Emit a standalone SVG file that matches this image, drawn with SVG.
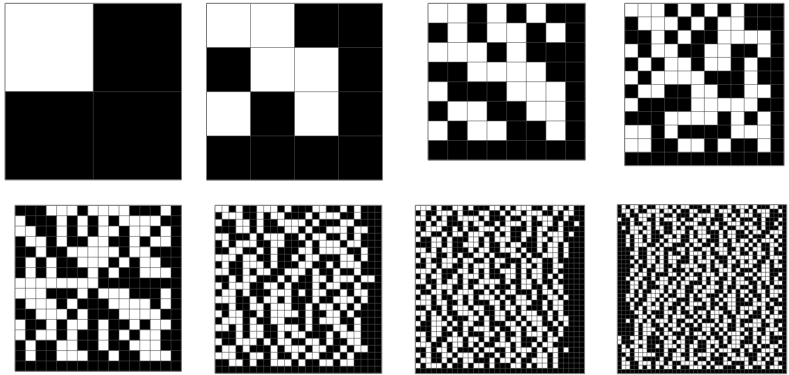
<svg xmlns="http://www.w3.org/2000/svg" xmlns:xlink="http://www.w3.org/1999/xlink" width="789" height="375" viewBox="0 0 789 375">
<style>
.bg{fill:#000}
.w{fill:none;stroke:#fff;stroke-width:1}
.gl{fill:none;stroke:#4e4e4e;stroke-opacity:.55;stroke-width:1;vector-effect:non-scaling-stroke}
.bd{fill:none;stroke:#7a7a7a;stroke-width:1;vector-effect:non-scaling-stroke}
</style>
<defs>
<clipPath id="c8L"><path d="M31 0H39V39H0V31H31Z"/></clipPath>
<clipPath id="c8a"><rect x="31" y="0" width="8" height="8"/></clipPath>
<clipPath id="c8b"><rect x="0" y="31" width="8" height="8"/></clipPath>
</defs>
<rect width="789" height="375" fill="#fff"/>

<g id="grid-2x2" transform="translate(5,3.3) scale(88.25,88.3)">
<rect class="bg" width="2" height="2"/>
<path class="w" d="M0 .5h1"/>
<path class="gl" d="M1 0V2M0 1H2"/>
<rect class="bd" width="2" height="2"/>
</g>

<g id="grid-4x4" transform="translate(206.5,3.3) scale(44,44.2)">
<rect class="bg" width="4" height="4"/>
<path class="w" d="M0 .5h2M1 1.5h2M0 2.5h1m1 0h1"/>
<path class="gl" d="M1 0v4m1-4v4m1-4v4M0 1h4m-4 1h4m-4 1h4"/>
<rect class="bd" width="4" height="4"/>
</g>

<g id="grid-8x8" transform="translate(428,3.3) scale(19.66,19.6)">
<rect class="bg" width="8" height="8"/>
<path class="w" d="M0 .5h2m1 0h1m1 0h1M1 1.5h1m1 0h2m1 0h1M0 2.5h3m1 0h1M2 3.5h4M0 4.5h1m3 0h3M1 5.5h2m2 0h2M0 6.5h1m1 0h2m2 0h1"/>
<path class="gl" d="M1 0v8m1-8v8m1-8v8m1-8v8m1-8v8m1-8v8m1-8v8M0 1h8m-8 1h8m-8 1h8m-8 1h8m-8 1h8m-8 1h8m-8 1h8"/>
<rect class="bd" width="8" height="8"/>
</g>

<g id="grid-12x12" transform="translate(624.7,3.3) scale(13.28,13.53)">
<rect class="bg" width="12" height="12"/>
<path class="w" d="M0 .5h3m1 0h1m1 0h1m1 0h1M1 1.5h3m1 0h1m1 0h2M2 2.5h1m1 0h1m2 0h4M0 3.5h1m1 0h2m2 0h2m2 0h1M1 4.5h1m1 0h2m1 0h2m1 0h1M0 5.5h1m1 0h4m3 0h1M1 6.5h2m2 0h2m2 0h2M0 7.5h1m4 0h5M3 8.5h4m1 0h1m1 0h1M0 9.5h2m1 0h1m4 0h3M0 10.5h2m2 0h2m1 0h1m2 0h1"/>
<path class="gl" d="M1 0v12m1-12v12m1-12v12m1-12v12m1-12v12m1-12v12m1-12v12m1-12v12m1-12v12m1-12v12m1-12v12M0 1h12m-12 1h12m-12 1h12m-12 1h12m-12 1h12m-12 1h12m-12 1h12m-12 1h12m-12 1h12m-12 1h12m-12 1h12"/>
<rect class="bd" width="12" height="12"/>
</g>

<g id="grid-16x16" transform="translate(15,205.3) scale(10.4,10.375)">
<rect class="bg" width="16" height="16"/>
<path class="w" d="M3 .5h3m1 0h4m3 0h1M0 1.5h1m3 0h1m1 0h1m1 0h1m1 0h4M0 2.5h2m2 0h1m1 0h1m1 0h2m1 0h2m1 0h1M1 3.5h2m1 0h1m2 0h2m2 0h1m1 0h2M2 4.5h1m2 0h5m1 0h2M1 5.5h1m1 0h1m2 0h3m1 0h1m1 0h2M1 6.5h1m1 0h1m3 0h1m1 0h1m2 0h3M0 7.5h8M0 8.5h3m3 0h1m1 0h3m3 0h1M1 9.5h3m1 0h1m3 0h4m1 0h1M2 10.5h3m1 0h1m3 0h4M0 11.5h1m2 0h1m1 0h2m1 0h1m2 0h1m1 0h2M0 12.5h1m1 0h2m1 0h1m2 0h1m1 0h1m1 0h2M1 13.5h1m2 0h2m2 0h1m2 0h3M1 14.5h1m2 0h3m2 0h1m2 0h3"/>
<path class="gl" d="M1 0v16m1-16v16m1-16v16m1-16v16m1-16v16m1-16v16m1-16v16m1-16v16m1-16v16m1-16v16m1-16v16m1-16v16m1-16v16m1-16v16m1-16v16M0 1h16m-16 1h16m-16 1h16m-16 1h16m-16 1h16m-16 1h16m-16 1h16m-16 1h16m-16 1h16m-16 1h16m-16 1h16m-16 1h16m-16 1h16m-16 1h16m-16 1h16"/>
<rect class="bd" width="16" height="16"/>
</g>

<g id="grid-24x24" transform="translate(215,205.3) scale(6.95,7.0)">
<rect class="bg" width="24" height="24"/>
<path id="w6" class="w" d="M0 .5h2m1 0h1m2 0h3m1 0h1m3 0h2m2 0h1m1 0h1M1 1.5h3m2 0h1m1 0h2m3 0h1m1 0h3m2 0h1M0 2.5h1m2 0h2m1 0h1m2 0h4m1 0h1m3 0h2M3 3.5h2m1 0h1m3 0h2m1 0h1m2 0h3m1 0h2M0 4.5h2m3 0h1m1 0h3m2 0h1m1 0h2m2 0h1m1 0h1M1 5.5h1m1 0h3m2 0h2m3 0h1m1 0h3m1 0h2M2 6.5h2m2 0h1m1 0h1m3 0h2m1 0h4m2 0h1M0 7.5h3m1 0h2m2 0h1m2 0h1m1 0h2m3 0h2m1 0h1M1 8.5h1m2 0h3m1 0h1m3 0h2m2 0h1m1 0h3M0 9.5h2m2 0h1m1 0h2m2 0h3m1 0h1m2 0h1m2 0h1M2 10.5h1m1 0h2m3 0h1m1 0h1m2 0h2m1 0h3m1 0h2M0 11.5h1m1 0h3m2 0h2m1 0h1m3 0h1m1 0h2m2 0h1M1 12.5h2m1 0h1m3 0h3m1 0h1m1 0h2m2 0h1m1 0h2M0 13.5h3m2 0h1m1 0h2m1 0h1m3 0h1m2 0h3m1 0h1M2 14.5h1m2 0h2m1 0h3m2 0h1m1 0h2m1 0h1m1 0h1M0 15.5h1m1 0h2m2 0h1m1 0h4m1 0h1m2 0h2m1 0h1M1 16.5h3m1 0h1m2 0h2m3 0h1m1 0h3m2 0h1M0 17.5h2m1 0h1m1 0h2m2 0h3m1 0h1m3 0h2m1 0h1M3 18.5h1m1 0h2m2 0h1m1 0h2m3 0h1m1 0h3M0 19.5h1m2 0h3m1 0h1m1 0h2m2 0h2m1 0h1m2 0h2M1 20.5h2m1 0h1m3 0h1m1 0h3m1 0h2m2 0h1m1 0h2M0 21.5h3m2 0h2m1 0h1m2 0h1m1 0h2m2 0h1m1 0h1M2 22.5h2m1 0h1m2 0h3m1 0h1m2 0h2m1 0h2"/>
<path class="gl" d="M1 0v24m1-24v24m1-24v24m1-24v24m1-24v24m1-24v24m1-24v24m1-24v24m1-24v24m1-24v24m1-24v24m1-24v24m1-24v24m1-24v24m1-24v24m1-24v24m1-24v24m1-24v24m1-24v24m1-24v24m1-24v24m1-24v24m1-24v24M0 1h24m-24 1h24m-24 1h24m-24 1h24m-24 1h24m-24 1h24m-24 1h24m-24 1h24m-24 1h24m-24 1h24m-24 1h24m-24 1h24m-24 1h24m-24 1h24m-24 1h24m-24 1h24m-24 1h24m-24 1h24m-24 1h24m-24 1h24m-24 1h24m-24 1h24m-24 1h24"/>
<rect class="bd" width="24" height="24"/>
</g>

<g id="grid-32x32" transform="translate(415.3,205.3) scale(5.29,5.26)">
<rect class="bg" width="32" height="32"/>
<path id="w7" class="w" d="M0 .5h3m1 0h1m2 0h2m1 0h1m3 0h2m1 0h1m1 0h3m2 0h1m1 0h2m1 0h1M1 1.5h1m2 0h3m1 0h1m3 0h2m2 0h1m1 0h2m1 0h3m2 0h1m1 0h2M0 2.5h2m1 0h1m1 0h1m2 0h4m1 0h1m3 0h1m2 0h2m1 0h3m2 0h1M2 3.5h1m1 0h2m3 0h1m1 0h2m2 0h1m1 0h3m1 0h1m2 0h2m1 0h1m2 0h1M0 4.5h1m1 0h3m2 0h1m1 0h1m2 0h3m1 0h2m3 0h1m1 0h2m2 0h1M1 5.5h2m2 0h1m1 0h2m1 0h3m2 0h1m1 0h1m2 0h2m1 0h1m1 0h3m1 0h1M0 6.5h1m2 0h2m1 0h1m3 0h2m1 0h1m1 0h3m2 0h1m2 0h2m1 0h2M3 7.5h2m1 0h1m2 0h3m1 0h1m2 0h1m1 0h2m3 0h1m1 0h2m1 0h1M0 8.5h2m1 0h1m1 0h2m3 0h1m1 0h2m2 0h3m1 0h1m2 0h1m1 0h2m1 0h1M1 9.5h3m2 0h1m1 0h1m2 0h2m1 0h1m3 0h2m1 0h1m2 0h3m1 0h1M0 10.5h1m1 0h1m2 0h3m1 0h2m2 0h1m1 0h2m3 0h1m1 0h2m2 0h1M2 11.5h2m1 0h2m2 0h1m1 0h3m1 0h1m2 0h1m1 0h2m1 0h1m2 0h2M0 12.5h3m1 0h1m3 0h2m1 0h1m1 0h1m2 0h3m1 0h1m1 0h2m2 0h1M1 13.5h1m1 0h2m2 0h1m1 0h3m1 0h1m3 0h2m1 0h1m1 0h2m1 0h1m1 0h1M0 14.5h2m2 0h1m1 0h2m1 0h1m2 0h4m1 0h1m2 0h2m1 0h1m2 0h1M2 15.5h1m1 0h3m2 0h1m1 0h2m1 0h1m3 0h1m1 0h2m2 0h1m1 0h2M0 16.5h1m2 0h2m1 0h1m1 0h3m2 0h1m1 0h1m1 0h2m3 0h1m1 0h2m1 0h1M1 17.5h2m1 0h1m2 0h2m1 0h1m1 0h3m1 0h1m2 0h2m1 0h1m2 0h2m1 0h1M0 18.5h3m1 0h2m2 0h1m1 0h1m3 0h2m1 0h1m1 0h3m2 0h1m1 0h2M2 19.5h1m2 0h1m1 0h3m1 0h2m2 0h1m1 0h2m1 0h1m3 0h1m1 0h2M0 20.5h2m1 0h1m1 0h1m2 0h3m1 0h1m2 0h2m1 0h1m1 0h3m2 0h1m1 0h1M1 21.5h1m1 0h2m1 0h1m3 0h2m1 0h1m1 0h2m2 0h1m1 0h3m1 0h1m1 0h2M0 22.5h1m2 0h3m1 0h1m1 0h2m2 0h1m3 0h2m1 0h1m1 0h2m2 0h1m1 0h1M3 23.5h2m1 0h1m2 0h1m1 0h3m1 0h1m2 0h2m1 0h1m1 0h2m2 0h1M0 24.5h2m1 0h2m2 0h1m1 0h1m3 0h2m1 0h1m2 0h1m1 0h3m1 0h1m1 0h1M1 25.5h1m1 0h1m2 0h3m1 0h2m1 0h1m2 0h1m1 0h2m3 0h1m1 0h2M0 26.5h3m2 0h1m1 0h2m1 0h1m1 0h1m2 0h3m1 0h1m2 0h1m1 0h2M2 27.5h1m1 0h2m1 0h1m3 0h1m1 0h2m2 0h1m1 0h3m1 0h1m1 0h2m1 0h1M0 28.5h1m1 0h1m2 0h2m1 0h3m1 0h1m2 0h1m1 0h2m1 0h1m2 0h2m1 0h1M1 29.5h2m2 0h1m1 0h1m1 0h2m3 0h1m1 0h2m1 0h1m2 0h3m1 0h1M0 30.5h1m1 0h3m1 0h1m2 0h1m1 0h2m1 0h1m3 0h2m1 0h1m1 0h2m1 0h1"/>
<path class="gl" d="M1 0v32m1-32v32m1-32v32m1-32v32m1-32v32m1-32v32m1-32v32m1-32v32m1-32v32m1-32v32m1-32v32m1-32v32m1-32v32m1-32v32m1-32v32m1-32v32m1-32v32m1-32v32m1-32v32m1-32v32m1-32v32m1-32v32m1-32v32m1-32v32m1-32v32m1-32v32m1-32v32m1-32v32m1-32v32m1-32v32m1-32v32M0 1h32m-32 1h32m-32 1h32m-32 1h32m-32 1h32m-32 1h32m-32 1h32m-32 1h32m-32 1h32m-32 1h32m-32 1h32m-32 1h32m-32 1h32m-32 1h32m-32 1h32m-32 1h32m-32 1h32m-32 1h32m-32 1h32m-32 1h32m-32 1h32m-32 1h32m-32 1h32m-32 1h32m-32 1h32m-32 1h32m-32 1h32m-32 1h32m-32 1h32m-32 1h32m-32 1h32"/>
<rect class="bd" width="32" height="32"/>
</g>

<g id="grid-40x40" transform="translate(617.3,204.7) scale(4.235,4.225)">
<rect class="bg" width="40" height="40"/>
<use href="#w7" xlink:href="#w7" transform="matrix(-1 0 0 1 31 0)"/>
<g clip-path="url(#c8L)"><use href="#w7" xlink:href="#w7" transform="matrix(-1 0 0 -1 39 39)"/></g>
<g clip-path="url(#c8a)"><use href="#w6" xlink:href="#w6" transform="translate(26,-3)"/></g>
<g clip-path="url(#c8b)"><use href="#w6" xlink:href="#w6" transform="translate(-4,20)"/></g>
<path class="gl" d="M1 0v40m1-40v40m1-40v40m1-40v40m1-40v40m1-40v40m1-40v40m1-40v40m1-40v40m1-40v40m1-40v40m1-40v40m1-40v40m1-40v40m1-40v40m1-40v40m1-40v40m1-40v40m1-40v40m1-40v40m1-40v40m1-40v40m1-40v40m1-40v40m1-40v40m1-40v40m1-40v40m1-40v40m1-40v40m1-40v40m1-40v40m1-40v40m1-40v40m1-40v40m1-40v40m1-40v40m1-40v40m1-40v40m1-40v40M0 1h40m-40 1h40m-40 1h40m-40 1h40m-40 1h40m-40 1h40m-40 1h40m-40 1h40m-40 1h40m-40 1h40m-40 1h40m-40 1h40m-40 1h40m-40 1h40m-40 1h40m-40 1h40m-40 1h40m-40 1h40m-40 1h40m-40 1h40m-40 1h40m-40 1h40m-40 1h40m-40 1h40m-40 1h40m-40 1h40m-40 1h40m-40 1h40m-40 1h40m-40 1h40m-40 1h40m-40 1h40m-40 1h40m-40 1h40m-40 1h40m-40 1h40m-40 1h40m-40 1h40m-40 1h40"/>
<rect class="bd" width="40" height="40"/>
</g>
</svg>
